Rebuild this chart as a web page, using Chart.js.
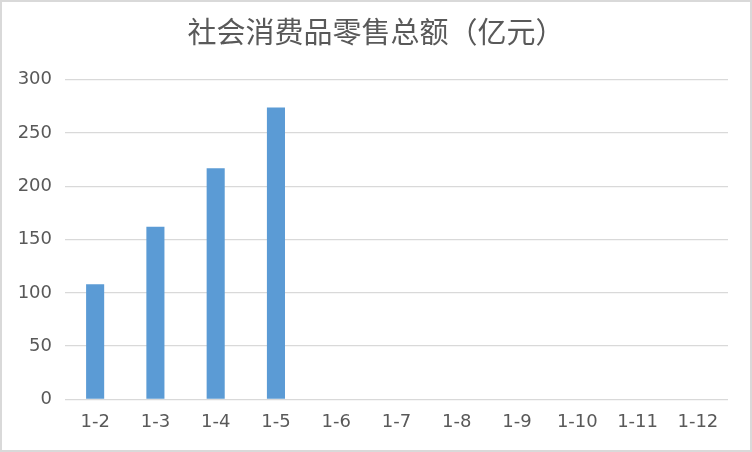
<!DOCTYPE html>
<html>
<head>
<meta charset="utf-8">
<script src="https://cdn.jsdelivr.net/npm/chart.js@4/dist/chart.umd.min.js"></script>
<style>
html,body{margin:0;padding:0;background:#fff;}
#wrap{position:relative;width:752px;height:452px;}
</style>
</head>
<body>
<div id="wrap"><canvas id="c" width="752" height="452"></canvas></div>
<script>
const categories = ["1-2","1-3","1-4","1-5","1-6","1-7","1-8","1-9","1-10","1-11","1-12"];
const salesValues = [108, 162, 217, 274, null, null, null, null, null, null, null];
const yTicks = [0, 50, 100, 150, 200, 250, 300];
const titleText = "社会消费品零售总额（亿元）";

const borderPlugin = {
  id: 'outerBorder',
  afterDraw(chart) {
    const ctx = chart.ctx;
    ctx.save();
    ctx.strokeStyle = '#d9d9d9';
    ctx.lineWidth = 2;
    ctx.strokeRect(1, 1, chart.width - 2, chart.height - 2);
    ctx.restore();
  }
};

new Chart(document.getElementById('c'), {
  type: 'bar',
  data: {
    labels: categories,
    datasets: [{
      data: salesValues,
      backgroundColor: '#5b9bd5',
      borderWidth: 0,
      categoryPercentage: 1,
      barPercentage: 0.3
    }]
  },
  options: {
    responsive: false,
    animation: false,
    devicePixelRatio: 1,
    layout: { padding: { left: 0, right: 0, top: 0, bottom: 7 } },
    plugins: {
      legend: { display: false },
      tooltip: { enabled: false },
      title: {
        display: true,
        text: titleText,
        color: '#595959',
        font: { family: '"Noto Sans CJK SC", sans-serif', size: 29, weight: 'normal', lineHeight: 1.2 },
        padding: { top: 15, bottom: 30 }
      }
    },
    scales: {
      x: {
        grid: { display: false, drawTicks: false },
        border: { display: false },
        ticks: {
          color: '#595959',
          padding: 12,
          maxRotation: 0,
          autoSkip: false,
          font: { family: '"DejaVu Sans", sans-serif', size: 18 }
        }
      },
      y: {
        min: 0,
        max: 300,
        afterBuildTicks(scale) { scale.ticks = yTicks.map(v => ({ value: v })); },
        afterFit(scale) { scale.width = 65; },
        grid: { color: '#d9d9d9', lineWidth: 1.3, drawTicks: false },
        border: { display: false },
        ticks: {
          color: '#595959',
          padding: 13,
          font: { family: '"DejaVu Sans", sans-serif', size: 18 }
        }
      },
      yRight: {
        position: 'right',
        display: true,
        min: 0,
        max: 300,
        afterFit(scale) { scale.width = 24; },
        grid: { display: false, drawTicks: false },
        border: { display: false },
        ticks: { display: false }
      }
    }
  },
  plugins: [borderPlugin]
});
</script>
</body>
</html>
